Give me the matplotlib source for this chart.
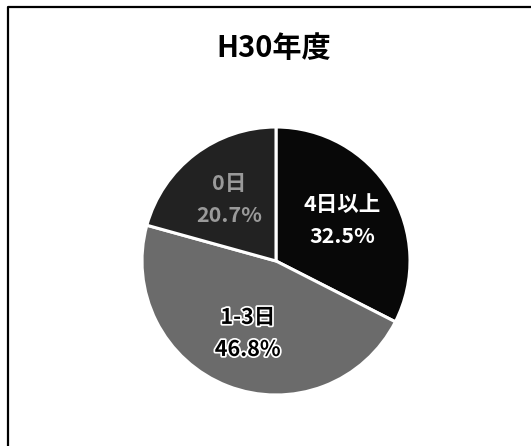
import matplotlib
matplotlib.use("Agg")
import matplotlib.pyplot as plt
import matplotlib.patheffects as pe
from matplotlib.lines import Line2D

plt.rcParams['font.family'] = ['Noto Sans CJK JP', 'DejaVu Sans']

title = "H30年度"
categories = ["4日以上", "1-3日", "0日"]
values = [32.5, 46.8, 20.7]
colors = ["#080808", "#6b6b6b", "#222222"]
label_colors = ["white", "black", "#9a9a9a"]

W, H = 531, 446
fig = plt.figure(figsize=(W / 100, H / 100), dpi=100)

# partial frame (top and left edges only)
fx, fy = 8 / W, 1 - 7 / H
fig.add_artist(Line2D([fx, fx, 1.0], [0.0, fy, fy], transform=fig.transFigure,
                      color="black", linewidth=1.6))

fig.text(274 / W, 1 - 48 / H, title, ha="center", va="center",
         fontsize=21, fontweight="bold")

cx, cy, r = 276, 261, 134
ax = fig.add_axes([(cx - r) / W, (H - cy - r) / H, 2 * r / W, 2 * r / H])

wedges, texts, autotexts = ax.pie(
    values, colors=colors, startangle=90, counterclock=False,
    autopct="%.1f%%", pctdistance=0.58,
    wedgeprops=dict(edgecolor="white", linewidth=2.2),
)

for t, cat, col in zip(autotexts, categories, label_colors):
    t.set_text(f"{cat}\n{t.get_text()}")
    t.set_color(col)
    t.set_fontsize(15.5)
    t.set_fontweight("bold")
    t.set_linespacing(1.65)
    if col == "black":
        t.set_path_effects([pe.withStroke(linewidth=2.5, foreground="white")])

ax.set_xlim(-1, 1)
ax.set_ylim(-1, 1)
ax.set_aspect("equal")

fig.savefig("out.png", dpi=100)
